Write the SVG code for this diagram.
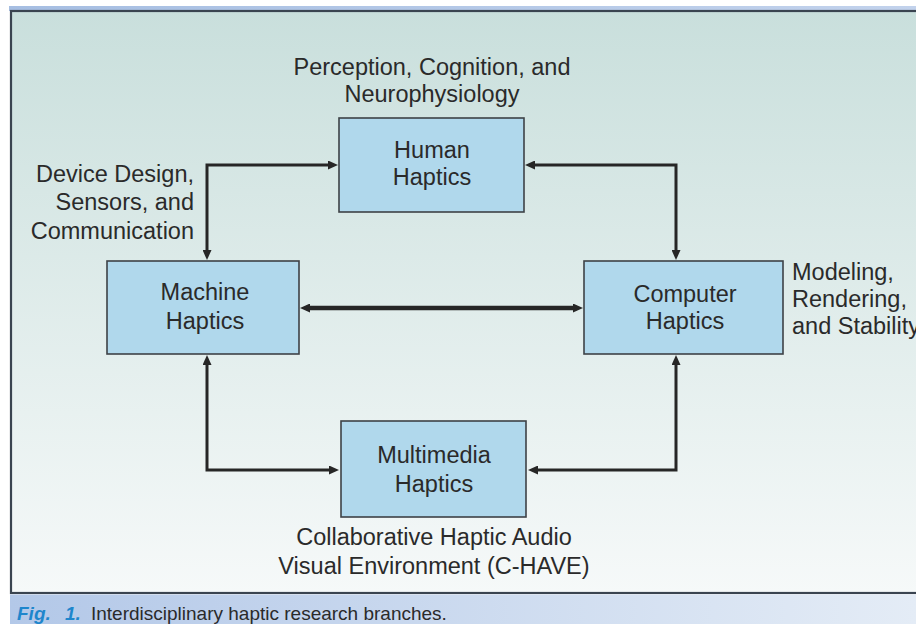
<svg xmlns="http://www.w3.org/2000/svg" width="916" height="624" viewBox="0 0 916 624">
<defs>
<linearGradient id="bg" x1="0" y1="0" x2="0" y2="1">
<stop offset="0" stop-color="#c9dfdc"/>
<stop offset="1" stop-color="#f6f9f9"/>
</linearGradient>
<linearGradient id="cap" x1="0" y1="0" x2="1" y2="0">
<stop offset="0" stop-color="#b3c8e8"/>
<stop offset="1" stop-color="#e4ecf6"/>
</linearGradient>
<linearGradient id="topband" x1="0" y1="0" x2="1" y2="0">
<stop offset="0" stop-color="#a6bee2"/>
<stop offset="1" stop-color="#c2d2ec"/>
</linearGradient>
<marker id="ah" markerUnits="userSpaceOnUse" markerWidth="11" markerHeight="9" viewBox="0 0 10 9" refX="4" refY="4.5" orient="auto-start-reverse">
<path d="M0,0 L10,4.5 L0,9 z" fill="#262626"/>
</marker>
<style>
.box{fill:#b0d8ec;stroke:#3e4246;stroke-width:1.6}
.t{font-family:"Liberation Sans",Arial,sans-serif;font-size:23.5px;fill:#2a2a2a}
.c{text-anchor:middle}
.r{text-anchor:end}
.con{fill:none;stroke:#262626;stroke-width:3;stroke-linejoin:miter;marker-start:url(#ah);marker-end:url(#ah)}
.thick{stroke-width:4.5}
</style>
</defs>
<rect x="0" y="0" width="916" height="624" fill="#ffffff"/>
<rect x="9" y="6" width="907" height="5" fill="url(#topband)"/>
<rect x="11" y="11" width="920" height="582" fill="url(#bg)" stroke="#3a4450" stroke-width="2.2"/>
<rect x="10" y="594.5" width="906" height="29.5" fill="url(#cap)"/>
<g id="connectors">
<path class="con" d="M207,254 V165 H332"/>
<path class="con" d="M531,165 H676 V254"/>
<path class="con thick" d="M306,308 H577"/>
<path class="con" d="M207,361 V470 H333"/>
<path class="con" d="M676,361 V470 H534"/>
</g>
<g id="human">
<rect class="box" x="339" y="118" width="185" height="94"/>
<text class="t c" x="432" y="158">Human</text>
<text class="t c" x="432" y="185">Haptics</text>
</g>
<g id="machine">
<rect class="box" x="107" y="261" width="192" height="93"/>
<text class="t c" x="205" y="300">Machine</text>
<text class="t c" x="205" y="329">Haptics</text>
</g>
<g id="computer">
<rect class="box" x="584" y="261" width="199" height="93"/>
<text class="t c" x="685" y="302">Computer</text>
<text class="t c" x="685" y="329">Haptics</text>
</g>
<g id="multimedia">
<rect class="box" x="341" y="421" width="185" height="96"/>
<text class="t c" x="434" y="463">Multimedia</text>
<text class="t c" x="434" y="492">Haptics</text>
</g>
<g id="label-human">
<text class="t c" x="432" y="75">Perception, Cognition, and</text>
<text class="t c" x="432" y="102">Neurophysiology</text>
</g>
<g id="label-machine">
<text class="t r" x="194" y="182">Device Design,</text>
<text class="t r" x="194" y="210">Sensors, and</text>
<text class="t r" x="194" y="239">Communication</text>
</g>
<g id="label-computer">
<text class="t" x="792" y="280">Modeling,</text>
<text class="t" x="792" y="307">Rendering,</text>
<text class="t" x="792" y="334">and Stability</text>
</g>
<g id="label-multimedia">
<text class="t c" x="434" y="545">Collaborative Haptic Audio</text>
<text class="t c" x="434" y="574">Visual Environment (C-HAVE)</text>
</g>
<g id="caption">
<text x="17" y="620" font-family="Liberation Sans,Arial,sans-serif" font-size="19" font-weight="bold" font-style="italic" fill="#1e86cc">Fig.</text>
<text x="65" y="620" font-family="Liberation Sans,Arial,sans-serif" font-size="19" font-weight="bold" font-style="italic" fill="#1e86cc">1.</text>
<text x="91" y="620" font-family="Liberation Sans,Arial,sans-serif" font-size="19" fill="#2a2a2a">Interdisciplinary haptic research branches.</text>
</g>
</svg>
